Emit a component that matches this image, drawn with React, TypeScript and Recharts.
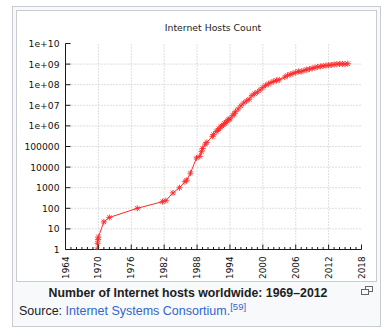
import React from 'react';
import { LineChart, Line, XAxis, YAxis, ReferenceLine } from 'recharts';

// ---- data ----
const years = [
  1969.75, 1969.85, 1969.92, 1970.0, 1971.0, 1972.0, 1977.1, 1981.7, 1982.3, 1983.6,
  1984.8, 1985.8, 1986.1, 1986.8, 1987.9, 1988.5, 1988.8, 1989.0, 1989.5, 1989.8,
  1990.8, 1991.0, 1991.5, 1991.8, 1992.0, 1992.3, 1992.5, 1992.8, 1993.0, 1993.3,
  1993.5, 1993.8, 1994.0, 1994.5, 1994.8, 1995.0, 1995.5, 1996.0, 1996.5, 1997.0,
  1997.5, 1998.0, 1998.5, 1999.0, 1999.5, 2000.0, 2000.5, 2001.0, 2001.5, 2002.0,
  2002.5, 2003.0, 2004.0, 2004.5, 2005.0, 2005.5, 2006.0, 2006.5, 2007.0, 2007.5,
  2008.0, 2008.5, 2009.0, 2009.5, 2010.0, 2010.5, 2011.0, 2011.5, 2012.0, 2012.5,
  2013.0, 2013.5, 2014.0, 2014.5, 2015.0, 2015.5,
];
const hosts = [
  1, 2, 3, 4, 22, 36, 100, 210, 235, 560,
  1000, 1960, 2300, 5100, 28000, 33000, 56000, 80000, 130000, 159000,
  313000, 376000, 535000, 617000, 727000, 890000, 992000, 1136000, 1313000, 1486000,
  1776000, 2056000, 2217000, 3212000, 3864000, 4852000, 6642000, 9472000, 12881000, 16146000,
  19540000, 29670000, 36739000, 43230000, 56218000, 72398000, 93048000, 109574000, 125888000, 147345000,
  162128000, 171638000, 233101000, 285139000, 317646000, 353284000, 394992000, 439286000, 433193000, 489774000,
  541677000, 570938000, 625226000, 681065000, 732740000, 768913000, 818374000, 849870000, 888239000, 908586000,
  963519000, 996231000, 1010252000, 1028544000, 1012707000, 1040000000,
];
const xMajorTicks = [1964, 1970, 1976, 1982, 1988, 1994, 2000, 2006, 2012, 2018];
const xTickLabels = ['1964', '1970', '1976', '1982', '1988', '1994', '2000', '2006', '2012', '2018'];
const xAllTicks = Array.from({ length: 2018 - 1964 + 1 }, (_, i) => 1964 + i);
const yTicks = [1, 10, 100, 1000, 10000, 100000, 1e6, 1e7, 1e8, 1e9, 1e10];
const yTickLabels = ['1', '10', '100', '1000', '10000', '100000', '1e+06', '1e+07', '1e+08', '1e+09', '1e+10'];

const rows = years.map((y, i) => ({ year: y, hosts: hosts[i] }));

const AXIS = '#1a1a1a';
const GRID = '#bdbdbd';
const TICKFONT = '"DejaVu Sans", sans-serif';

const BottomTick = (p: any) => {
  const { x, y, payload } = p;
  const idx = xMajorTicks.indexOf(payload.value);
  const major = idx >= 0;
  return (
    <g>
      <line x1={x} x2={x} y1={y} y2={y - (major ? 5 : 2.5)} stroke={AXIS} strokeWidth={1} />
      {major && (
        <text
          transform={`translate(${x},${y + 7}) rotate(-90)`}
          textAnchor="end"
          dominantBaseline="central"
          fontFamily={TICKFONT}
          fontSize={8.8}
          fill="#111"
        >
          {xTickLabels[idx]}
        </text>
      )}
    </g>
  );
};

const TopTick = (p: any) => {
  const { x, y, payload } = p;
  const major = xMajorTicks.indexOf(payload.value) >= 0;
  return <line x1={x} x2={x} y1={y} y2={y + (major ? 5 : 2.5)} stroke={AXIS} strokeWidth={1} />;
};

const LeftTick = (p: any) => {
  const { x, y, payload } = p;
  const idx = yTicks.indexOf(payload.value);
  return (
    <g>
      <line x1={x} x2={x + 5} y1={y} y2={y} stroke={AXIS} strokeWidth={1} />
      <text x={x - 6} y={y} textAnchor="end" dominantBaseline="central" fontFamily={TICKFONT} fontSize={9.2} fill="#111">
        {yTickLabels[idx]}
      </text>
    </g>
  );
};

const RightTick = (p: any) => {
  const { x, y } = p;
  return <line x1={x} x2={x - 5} y1={y} y2={y} stroke={AXIS} strokeWidth={1} />;
};

const Star = (p: any) => {
  const { cx, cy, index } = p;
  if (cx == null || cy == null) return <g key={index} />;
  const r = 3;
  const d = r * 0.72;
  return (
    <g key={index} stroke="#ff2a2a" strokeWidth={0.9}>
      <line x1={cx - r} x2={cx + r} y1={cy} y2={cy} />
      <line x1={cx} x2={cx} y1={cy - r} y2={cy + r} />
      <line x1={cx - d} x2={cx + d} y1={cy - d} y2={cy + d} />
      <line x1={cx - d} x2={cx + d} y1={cy + d} y2={cy - d} />
    </g>
  );
};

export default function App() {
  return (
    <div
      style={{
        position: 'absolute',
        left: 0,
        top: 0,
        width: 391,
        height: 336,
        background: '#fff',
        fontFamily: '"Liberation Sans", Arial, sans-serif',
        overflow: 'hidden',
      }}
    >
      <div
        style={{
          position: 'absolute',
          left: 12,
          top: 6,
          width: 367,
          height: 319,
          border: '1px solid #c8ccd1',
          background: '#f8f9fa',
        }}
      />
      <div
        style={{
          position: 'absolute',
          left: 16,
          top: 10,
          width: 359,
          height: 270,
          border: '1px solid #c8ccd1',
          background: '#fff',
        }}
      />
      <div style={{ position: 'absolute', left: 17, top: 11 }}>
        <LineChart
          width={359}
          height={270}
          data={rows}
          margin={{ top: 32.5, right: 14.5, bottom: 0, left: 0.5 }}
        >
          <XAxis
            dataKey="year"
            type="number"
            domain={[1964, 2018]}
            ticks={xAllTicks}
            interval={0}
            tickSize={0}
            tickMargin={0}
            height={31.5}
            axisLine={{ stroke: AXIS }}
            tickLine={false}
            tick={(p: any) => <BottomTick {...p} />}
            allowDataOverflow
          />
          <XAxis
            xAxisId="top"
            orientation="top"
            type="number"
            domain={[1964, 2018]}
            ticks={xAllTicks}
            interval={0}
            tickSize={0}
            tickMargin={0}
            height={0}
            axisLine={{ stroke: AXIS }}
            tickLine={false}
            tick={(p: any) => <TopTick {...p} />}
            allowDataOverflow
          />
          <YAxis
            type="number"
            scale="log"
            domain={[1, 1e10]}
            ticks={yTicks}
            interval={0}
            tickSize={0}
            tickMargin={0}
            width={48}
            axisLine={{ stroke: AXIS }}
            tickLine={false}
            tick={(p: any) => <LeftTick {...p} />}
            allowDataOverflow
          />
          <YAxis
            yAxisId="right"
            orientation="right"
            type="number"
            scale="log"
            domain={[1, 1e10]}
            ticks={yTicks}
            interval={0}
            tickSize={0}
            tickMargin={0}
            width={0}
            axisLine={{ stroke: AXIS }}
            tickLine={false}
            tick={(p: any) => <RightTick {...p} />}
            allowDataOverflow
          />
          {xMajorTicks.slice(1, -1).map((t) => (
            <ReferenceLine key={'x' + t} x={t} stroke={GRID} strokeDasharray="1 2" />
          ))}
          {yTicks.slice(1, -1).map((t) => (
            <ReferenceLine key={'y' + t} y={t} stroke={GRID} strokeDasharray="1 2" />
          ))}
          <Line
            dataKey="hosts"
            type="linear"
            stroke="#ff2a2a"
            strokeWidth={1}
            dot={(p: any) => <Star {...p} />}
            activeDot={false}
            isAnimationActive={false}
          />
        </LineChart>
      </div>
      <div
        style={{
          position: 'absolute',
          left: 113,
          top: 22,
          width: 200,
          textAlign: 'center',
          fontFamily: TICKFONT,
          fontSize: 9.3,
          lineHeight: '12px',
          color: '#222',
        }}
      >
        Internet Hosts Count
      </div>
      <div
        style={{
          position: 'absolute',
          left: 0,
          top: 285,
          width: 376,
          textAlign: 'center',
          fontSize: 12.3,
          fontWeight: 'bold',
          lineHeight: '16px',
          color: '#202122',
          whiteSpace: 'nowrap',
        }}
      >
        Number of Internet hosts worldwide: 1969–2012
      </div>
      <div
        style={{
          position: 'absolute',
          left: 19,
          top: 302.5,
          fontSize: 12.5,
          lineHeight: '16px',
          color: '#202122',
          whiteSpace: 'nowrap',
        }}
      >
        Source: <span style={{ color: '#3366cc' }}>Internet Systems Consortium.</span>
        <span style={{ color: '#3366cc', fontSize: 9.5, position: 'relative', top: -4.5 }}>[59]</span>
      </div>
      <svg style={{ position: 'absolute', left: 361, top: 286 }} width={13} height={9}>
        <rect x={4.5} y={0.5} width={7} height={5} fill="none" stroke="#666" strokeWidth={1} />
        <rect x={0.5} y={3.5} width={7} height={5} fill="#f8f9fa" stroke="#666" strokeWidth={1} />
      </svg>
    </div>
  );
}
